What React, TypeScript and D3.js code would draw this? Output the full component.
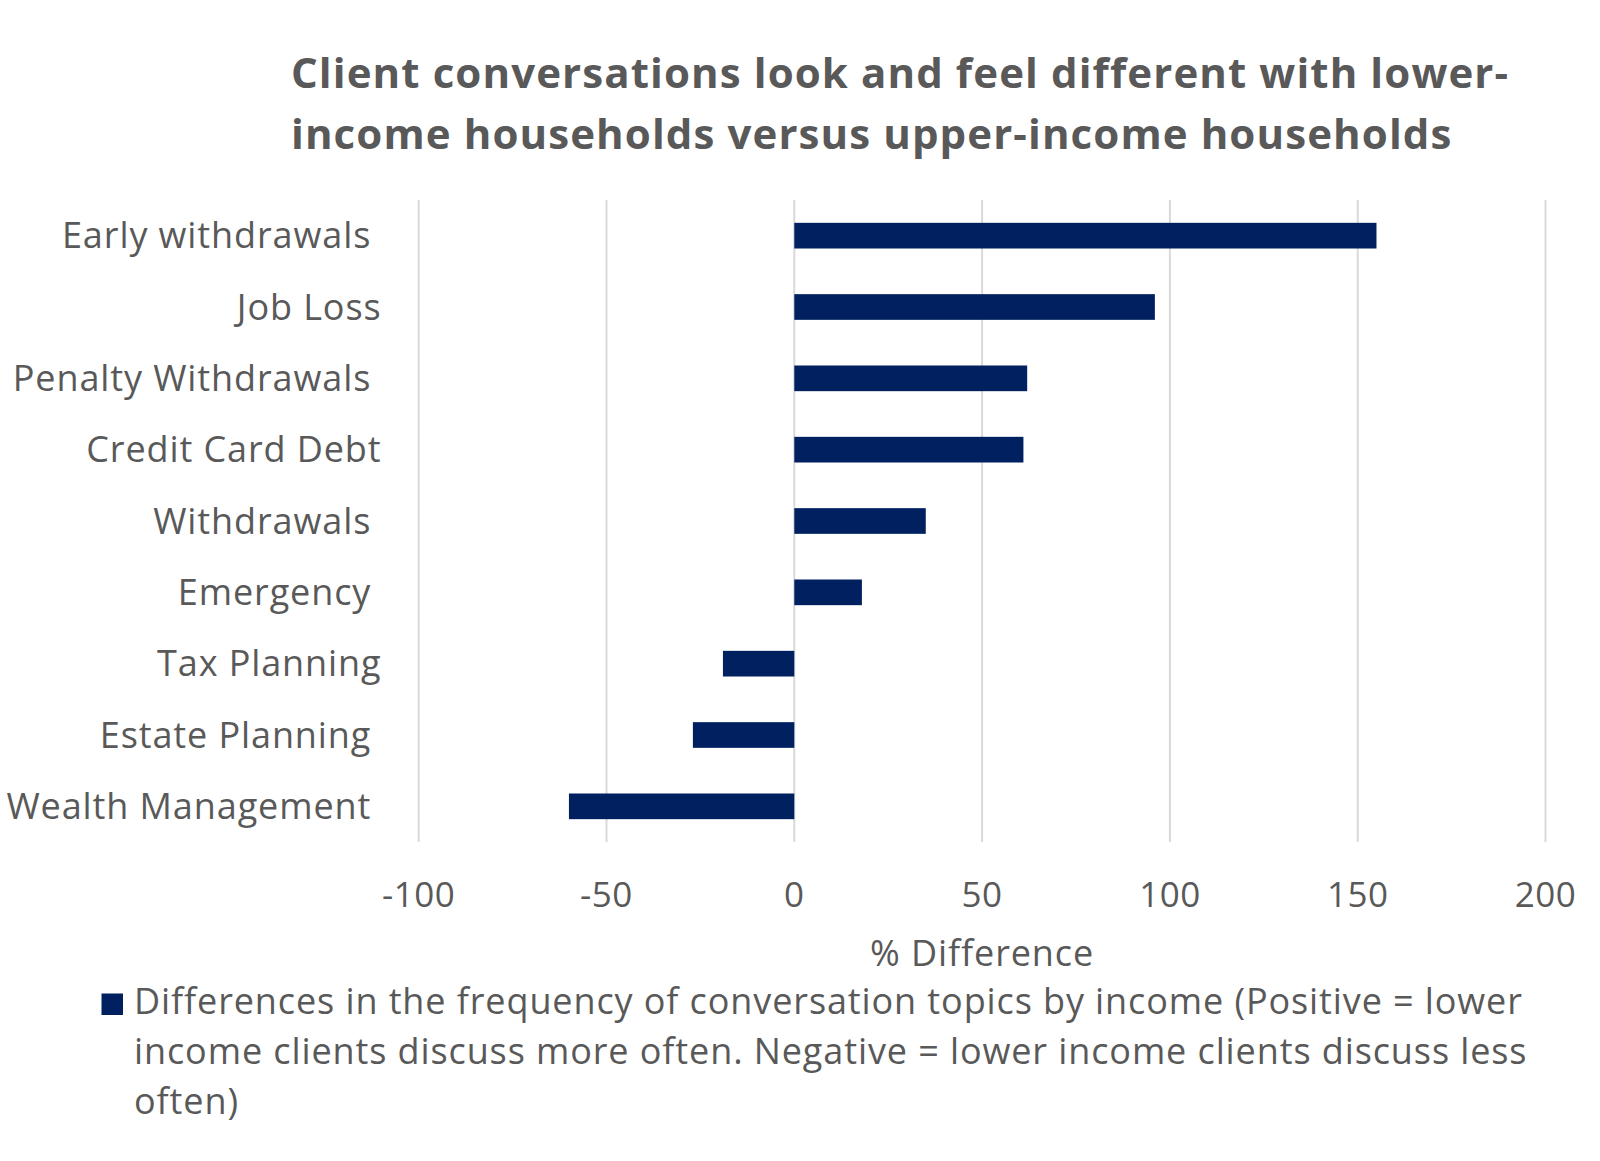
import React from "react";
import * as d3 from "d3";

const categories = [
  "Early withdrawals ",
  "Job Loss",
  "Penalty Withdrawals ",
  "Credit Card Debt",
  "Withdrawals ",
  "Emergency ",
  "Tax Planning",
  "Estate Planning ",
  "Wealth Management ",
];
const values = [155, 96, 62, 61, 35, 18, -19, -27, -60];
const xTicks = [-100, -50, 0, 50, 100, 150, 200];
const titleLines = [
  "Client conversations look and feel different with lower-",
  "income households versus upper-income households",
];
const legendLines = [
  "Differences in the frequency of conversation topics by income (Positive = lower",
  "income clients discuss more often. Negative = lower income clients discuss less",
  "often)",
];
const axisTitle = "% Difference";

const W = 1600;
const H = 1161;
const FONT = "'Open Sans', 'Noto Sans', sans-serif";
const TEXT = "#595959";
const BAR = "#002060";

export default function App() {
  const x = d3.scaleLinear().domain([-100, 200]).range([418.7, 1545.5]);
  const y = d3
    .scaleBand<string>()
    .domain(categories)
    .range([200, 842])
    .paddingInner(0.64)
    .paddingOuter(0.32);

  return (
    <svg
      width={W}
      height={H}
      style={{ position: "absolute", left: 0, top: 0, background: "#fff" }}
      fontFamily={FONT}
    >
      <rect width={W} height={H} fill="#fff" />
      {titleLines.map((t, i) => (
        <text
          key={i}
          x={291}
          y={88 + i * 61}
          fontSize={42}
          fontWeight={700}
          letterSpacing={1.1}
          fill={TEXT}
        >
          {t}
        </text>
      ))}
      {xTicks.map((t) => (
        <line
          key={t}
          x1={x(t)}
          x2={x(t)}
          y1={200}
          y2={842}
          stroke="#d9d9d9"
          strokeWidth={2}
        />
      ))}
      {categories.map((c, i) => {
        const v = values[i];
        const y0 = y(c)!;
        return (
          <rect
            key={c}
            x={x(Math.min(0, v))}
            y={y0}
            width={Math.abs(x(v) - x(0))}
            height={y.bandwidth()}
            fill={BAR}
          />
        );
      })}
      {categories.map((c) => (
        <text
          key={c}
          x={381.5}
          y={y(c)! + y.bandwidth() / 2}
          dy="0.35em"
          textAnchor="end"
          fontSize={36}
          letterSpacing={0.9}
          fill={TEXT}
          style={{ whiteSpace: "pre" }}
          xmlSpace="preserve"
        >
          {c}
        </text>
      ))}
      {xTicks.map((t) => (
        <text
          key={t}
          x={x(t)}
          y={907}
          textAnchor="middle"
          fontSize={35}
          letterSpacing={0.5}
          fill={TEXT}
        >
          {t}
        </text>
      ))}
      <text
        x={x(50)}
        y={966}
        textAnchor="middle"
        fontSize={36}
        letterSpacing={0.9}
        fill={TEXT}
      >
        {axisTitle}
      </text>
      <rect x={101.5} y={993.5} width={21.5} height={21.5} fill={BAR} />
      {legendLines.map((t, i) => (
        <text
          key={i}
          x={134}
          y={1014 + i * 50}
          fontSize={36}
          letterSpacing={0.9}
          fill={TEXT}
        >
          {t}
        </text>
      ))}
    </svg>
  );
}
